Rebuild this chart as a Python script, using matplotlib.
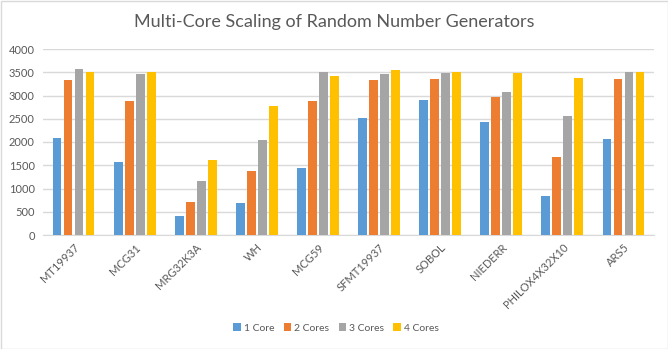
import numpy as np
import matplotlib
matplotlib.use("Agg")
import matplotlib.pyplot as plt
from matplotlib.patches import Rectangle

generators = ["MT19937", "MCG31", "MRG32K3A", "WH", "MCG59",
              "SFMT19937", "SOBOL", "NIEDERR", "PHILOX4X32X10", "ARS5"]
core_labels = ["1 Core", "2 Cores", "3 Cores", "4 Cores"]
one_core = [2090, 1575, 410, 690, 1445, 2520, 2910, 2435, 840, 2070]
two_cores = [3340, 2885, 710, 1380, 2885, 3340, 3360, 2975, 1680, 3360]
three_cores = [3575, 3470, 1165, 2045, 3510, 3470, 3490, 3080, 2565, 3510]
four_cores = [3510, 3510, 1615, 2780, 3425, 3555, 3510, 3490, 3380, 3510]

colors = ["#5B9BD5", "#ED7D31", "#A5A5A5", "#FFC000"]
plt.rcParams['font.family'] = ['Lato', 'DejaVu Sans']

fig = plt.figure(figsize=(6.68, 3.49), dpi=100)
ax = fig.add_axes([43/668, 1-235/349, (654-43)/668, (235-49)/349])

x = np.arange(len(generators))
slot = 0.18
barw = 0.145
series = [one_core, two_cores, three_cores, four_cores]
for i, vals in enumerate(series):
    ax.bar(x + (i - 1.5) * slot, vals, width=barw, color=colors[i],
           label=core_labels[i], zorder=3)

ax.set_xlim(-0.5, len(generators) - 0.5)
ax.set_ylim(0, 4000)
ax.set_yticks(range(0, 4001, 500))
ax.grid(axis='y', color='#D9D9D9', linewidth=1, zorder=0)
for s in ['top', 'right', 'left']:
    ax.spines[s].set_visible(False)
ax.spines['bottom'].set_color('#D9D9D9')
ax.tick_params(axis='both', length=0, colors='#595959', labelsize=8)
ax.tick_params(axis='y', pad=6)
ax.tick_params(axis='x', pad=5)
ax.set_xticks(x)
ax.set_xticklabels(generators, rotation=45, ha='right', rotation_mode='anchor')

fig.suptitle("Multi-Core Scaling of Random Number Generators", y=1-22/349,
             va='center', fontsize=13, color='#595959')
fig.legend(loc='center', bbox_to_anchor=(336/668, 1-328/349), ncol=4,
           frameon=False, fontsize=7.5, labelcolor='#595959',
           handlelength=0.7, handleheight=0.7, handletextpad=0.3,
           columnspacing=0.9)

fig.patches.append(Rectangle((0.5/668, 0.5/349), 1-1/668, 1-1/349,
                             transform=fig.transFigure, fill=False,
                             edgecolor='#D9D9D9', linewidth=1))
fig.savefig("out.png", dpi=100)
